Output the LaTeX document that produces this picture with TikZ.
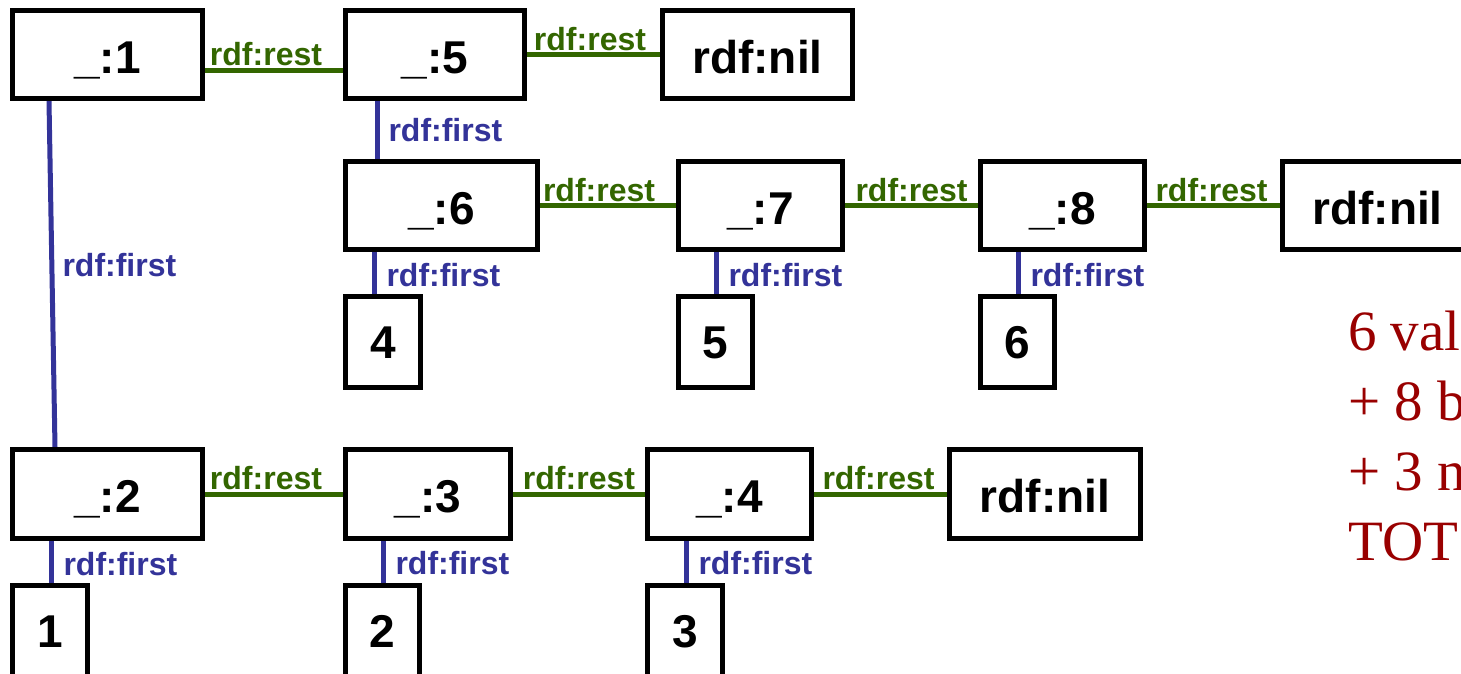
\documentclass[tikz,border=0pt]{standalone}
\usepackage{fontspec}
\newfontfamily\sansfam{Liberation Sans}
\newfontfamily\seriffam{Liberation Serif}
\usetikzlibrary{calc}
\definecolor{restgreen}{RGB}{51,102,0}
\definecolor{firstblue}{RGB}{51,51,153}
\definecolor{notered}{RGB}{153,0,0}
\tikzset{
  bnode/.style={draw=black, line width=5pt, fill=white, inner sep=0pt,
    font={\sansfam\bfseries\fontsize{46}{50}\selectfont},
    text height=37pt, text depth=0pt, minimum height=88pt},
  vnode/.style={bnode, text height=33pt, minimum height=91pt},
  restline/.style={draw=restgreen, line width=5pt},
  firstline/.style={draw=firstblue, line width=5pt},
  restlabel/.style={inner sep=0pt, anchor=base, yshift=4.5pt, text=restgreen,
    font={\sansfam\bfseries\fontsize{32}{36}\selectfont}},
  firstlabel/.style={inner sep=0pt, anchor=west, xshift=10pt, text=firstblue,
    font={\sansfam\bfseries\fontsize{32}{36}\selectfont}},
  note/.style={inner sep=0pt, anchor=base west, text=notered,
    font={\seriffam\fontsize{57}{60}\selectfont}}
}
\begin{document}
\begin{tikzpicture}[x=1pt,y=-1pt]
\useasboundingbox (0,0) rectangle (1461,673);
\clip (0,0) rectangle (1461,673);

% first list: _:1 -> _:5 -> nil
\node[bnode, minimum width=190pt] (n1) at (107.5,54.5) {\_:1};
\node[bnode, minimum width=179pt] (n5) at (435,54.5) {\_:5};
\node[bnode, minimum width=190pt] (nilA) at (757.5,54.5) {rdf:nil};

% nested list: _:6 -> _:7 -> _:8 -> nil
\node[bnode, minimum width=192pt] (n6) at (441.5,205.5) {\_:6};
\node[bnode, minimum width=164pt] (n7) at (760.5,205.5) {\_:7};
\node[bnode, minimum width=164pt] (n8) at (1062.5,205.5) {\_:8};
\node[bnode, minimum width=190pt] (nilB) at (1377.5,205.5) {rdf:nil};
\node[vnode, minimum width=75pt] (v4) at (383,342) {4};
\node[vnode, minimum width=74pt] (v5) at (715.5,342) {5};
\node[vnode, minimum width=74pt] (v6) at (1017.5,342) {6};

% list of values: _:2 -> _:3 -> _:4 -> nil
\node[bnode, minimum width=190pt, minimum height=89pt] (n2) at (107.5,494) {\_:2};
\node[bnode, minimum width=165pt, minimum height=89pt] (n3) at (428,494) {\_:3};
\node[bnode, minimum width=164pt, minimum height=89pt] (n4) at (729.5,494) {\_:4};
\node[bnode, minimum width=191pt, minimum height=89pt] (nilC) at (1045,494) {rdf:nil};
\node[vnode, minimum width=75pt] (v1) at (50,631) {1};
\node[vnode, minimum width=74pt] (v2) at (382.5,631) {2};
\node[vnode, minimum width=75pt] (v3) at (685,631) {3};

% rdf:rest connectors
\draw[restline] ([yshift=-15.5pt]n1.east) -- node[restlabel, xshift=-8pt] {rdf:rest} ([yshift=-15.5pt]n5.west);
\draw[restline] (n5.east) -- node[restlabel, xshift=-3.5pt] {rdf:rest} (nilA.west);
\draw[restline] (n6.east) -- node[restlabel, xshift=-9pt] {rdf:rest} (n7.west);
\draw[restline] (n7.east) -- node[restlabel] {rdf:rest} (n8.west);
\draw[restline] (n8.east) -- node[restlabel, xshift=-2pt] {rdf:rest} (nilB.west);
\draw[restline] (n2.east) -- node[restlabel, xshift=-8pt] {rdf:rest} (n3.west);
\draw[restline] (n3.east) -- node[restlabel] {rdf:rest} (n4.west);
\draw[restline] (n4.east) -- node[restlabel, xshift=-2pt] {rdf:rest} (nilC.west);

% rdf:first connectors
\draw[firstline] ($(n1.south west)+(39,0)$) -- node[firstlabel, xshift=-2pt, yshift=9pt] {rdf:first} ($(n2.north west)+(45,0)$);
\draw[firstline] ($(n5.south west)+(34,0)$) -- node[firstlabel, xshift=-1pt] {rdf:first} ($(n6.north west)+(34,0)$);
\draw[firstline] ($(n6.south west)+(31,0)$) -- node[firstlabel, yshift=-2pt] {rdf:first} ($(v4.north west)+(31,0)$);
\draw[firstline] ($(n7.south west)+(40,0)$) -- node[firstlabel, yshift=-2pt] {rdf:first} ($(v5.north west)+(40,0)$);
\draw[firstline] ($(n8.south west)+(40,0)$) -- node[firstlabel, yshift=-2pt] {rdf:first} ($(v6.north west)+(40,0)$);
\draw[firstline] ($(n2.south west)+(41,0)$) -- node[firstlabel, yshift=-2pt] {rdf:first} ($(v1.north west)+(41,0)$);
\draw[firstline] ($(n3.south west)+(40,0)$) -- node[firstlabel, yshift=-1pt] {rdf:first} ($(v2.north west)+(40,0)$);
\draw[firstline] ($(n4.south west)+(41,0)$) -- node[firstlabel, yshift=-1pt] {rdf:first} ($(v3.north west)+(41,0)$);

% redraw boxes on top of connector ends
\foreach \b in {n1,n5,nilA,n6,n7,n8,nilB,v4,v5,v6,n2,n3,n4,nilC,v1,v2,v3}{
  \draw[black, line width=5pt] (\b.south west) ++(2.5pt,2.5pt) rectangle ($(\b.north east)+(-2.5,2.5)$);
}

% tally
\node[note] (t1) at (1348,350) {6 val};
\node[note] (t2) at (1348,420) {+ 8 b};
\node[note] (t3) at (1348,490) {+ 3 n};
\node[note] (t4) at (1348,560) {TOT};
\end{tikzpicture}
\end{document}
